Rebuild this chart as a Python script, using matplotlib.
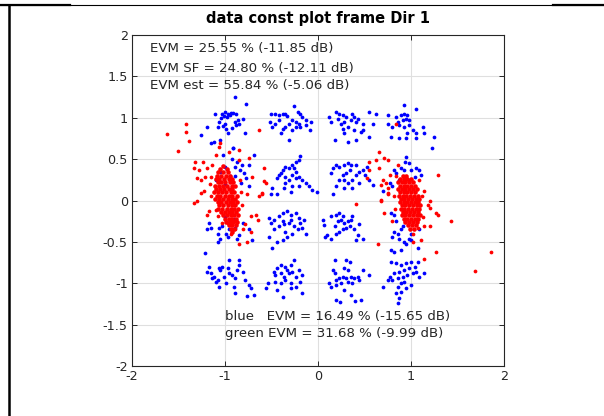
# -*- encoding: utf-8 -*-
import numpy as np
import matplotlib
matplotlib.use("Agg")
import matplotlib.pyplot as plt
from matplotlib.lines import Line2D

# --- data (I/Q points) ---
blue_row1 = [
    (-0.89, 1.25), (-0.77, 1.17), (-1.11, 1.04), (-1.03, 1.05), (-1.0, 1.07), (-0.97, 1.05),
    (-0.94, 1.06), (-0.91, 1.06), (-0.88, 1.05), (-1.01, 1.02), (-0.98, 1.01), (-0.95, 1.03),
    (-1.04, 1.0), (-1.06, 0.95), (-1.0, 0.93), (-0.89, 0.95), (-0.86, 0.97), (-0.88, 0.91),
    (-0.85, 0.93), (-0.81, 0.99), (-0.78, 0.81), (-0.99, 0.86), (-1.08, 0.89), (-1.19, 0.89),
    (-1.26, 0.79), (-1.15, 0.69), (-1.12, 0.71), (-1.05, 0.73), (-0.91, 0.64), (-0.97, 0.82),
    (-0.93, 0.88), (-1.02, 0.9),
    (-0.52, 0.95), (-0.51, 1.05), (-0.46, 1.05), (-0.42, 1.03), (-0.38, 1.05), (-0.35, 1.04),
    (-0.33, 1.02), (-0.26, 1.14), (-0.22, 1.07), (-0.19, 1.05), (-0.17, 1.01), (-0.13, 0.97),
    (-0.08, 0.95), (-0.20, 0.93), (-0.24, 0.95), (-0.28, 0.97), (-0.31, 0.93), (-0.35, 0.89),
    (-0.38, 0.87), (-0.40, 0.81), (-0.31, 0.73), (-0.28, 0.85), (-0.19, 0.89), (-0.13, 0.91),
    (-0.09, 0.85), (-0.24, 0.89), (-0.42, 0.97), (-0.46, 0.93), (-0.49, 0.89),
    (0.12, 1.01), (0.14, 0.95), (0.19, 1.07), (0.23, 1.05), (0.27, 1.03), (0.30, 1.01),
    (0.28, 0.95), (0.25, 0.93), (0.27, 0.87), (0.28, 0.81), (0.32, 0.89), (0.37, 1.05),
    (0.39, 1.01), (0.43, 0.99), (0.41, 0.95), (0.48, 0.93), (0.48, 0.85), (0.46, 0.83),
    (0.39, 0.85), (0.41, 0.73), (0.32, 0.71), (0.18, 0.73), (0.55, 1.07), (0.62, 1.05),
    (0.59, 0.93), (0.55, 0.77), (0.35, 0.97), (0.21, 0.99),
    (0.93, 1.15), (1.05, 1.11), (0.89, 1.03), (0.93, 1.05), (0.96, 1.03), (0.95, 0.99),
    (0.91, 0.97), (0.98, 0.97), (0.86, 0.95), (0.87, 0.91), (0.93, 0.89), (0.98, 0.91),
    (1.02, 0.85), (0.96, 0.81), (1.05, 0.81), (1.13, 0.89), (1.14, 0.81), (1.25, 0.77),
    (1.23, 0.63), (0.75, 1.03), (0.80, 0.89), (0.79, 0.77), (0.87, 0.75), (0.95, 0.76),
    (1.05, 0.76), (0.75, 0.93), (0.84, 1.01),
]
blue_row2 = [
    (-0.91, 0.64), (-0.69, 0.55), (-0.87, 0.47), (-0.82, 0.43), (-0.89, 0.41), (-0.74, 0.43),
    (-0.84, 0.37), (-0.80, 0.33), (-0.89, 0.30), (-0.74, 0.17), (-0.83, 0.21), (-0.77, 0.27),
    (-1.0, 0.4), (-1.05, 0.35), (-0.95, 0.3), (-1.1, 0.25), (-1.0, 0.2), (-0.93, 0.5), (-1.02, 0.55),
    (-0.19, 0.54), (-0.20, 0.49), (-0.24, 0.47), (-0.28, 0.43), (-0.26, 0.39), (-0.31, 0.39),
    (-0.35, 0.41), (-0.38, 0.37), (-0.40, 0.33), (-0.42, 0.31), (-0.44, 0.27), (-0.35, 0.29),
    (-0.31, 0.25), (-0.28, 0.31), (-0.24, 0.27), (-0.20, 0.29), (-0.17, 0.25), (-0.13, 0.21),
    (-0.10, 0.17), (-0.20, 0.17), (-0.28, 0.17), (-0.35, 0.21), (-0.49, 0.15), (-0.51, 0.08),
    (-0.44, 0.08), (-0.37, 0.15), (-0.29, 0.10), (-0.06, 0.13), (-0.01, 0.10), (-0.24, 0.35),
    (0.16, 0.39), (0.19, 0.43), (0.23, 0.41), (0.28, 0.43), (0.32, 0.45), (0.35, 0.43),
    (0.34, 0.37), (0.30, 0.33), (0.27, 0.31), (0.23, 0.25), (0.28, 0.25), (0.32, 0.21),
    (0.37, 0.25), (0.41, 0.31), (0.44, 0.35), (0.48, 0.37), (0.50, 0.31), (0.55, 0.25),
    (0.59, 0.19), (0.44, 0.21), (0.37, 0.15), (0.28, 0.15), (0.19, 0.17), (0.16, 0.08),
    (0.14, 0.33), (0.41, 0.43), (0.53, 0.41),
    (0.95, 0.53), (0.94, 0.47), (0.98, 0.45), (0.89, 0.39), (0.82, 0.37), (0.84, 0.33),
    (0.93, 0.37), (1.0, 0.37), (1.05, 0.39), (1.09, 0.37), (1.11, 0.31), (1.04, 0.29),
    (0.98, 0.25), (0.70, 0.12), (0.80, 0.17), (0.77, 0.21), (0.87, 0.25), (0.95, 0.27),
]
blue_row3 = [
    (-1.17, -0.27), (-1.19, -0.35), (-1.15, -0.33), (-1.06, -0.33), (-1.08, -0.40), (-1.05, -0.46),
    (-1.08, -0.50), (-0.99, -0.40), (-0.97, -0.44), (-0.96, -0.35), (-0.89, -0.33), (-0.87, -0.46),
    (-0.85, -0.42), (-0.81, -0.27), (-0.74, -0.35), (-0.71, -0.48), (-1.03, -0.31), (-0.95, -0.25),
    (-1.0, -0.2), (-0.9, -0.22),
    (-0.53, -0.21), (-0.51, -0.27), (-0.47, -0.23), (-0.42, -0.19), (-0.38, -0.15), (-0.33, -0.13),
    (-0.29, -0.17), (-0.24, -0.15), (-0.20, -0.21), (-0.19, -0.27), (-0.17, -0.33), (-0.22, -0.35),
    (-0.28, -0.40), (-0.33, -0.44), (-0.38, -0.48), (-0.44, -0.50), (-0.49, -0.58), (-0.53, -0.44),
    (-0.47, -0.35), (-0.42, -0.31), (-0.37, -0.29), (-0.31, -0.27), (-0.26, -0.31), (-0.35, -0.38),
    (-0.29, -0.23), (-0.38, -0.25), (-0.15, -0.23), (-0.13, -0.40),
    (0.14, -0.19), (0.19, -0.17), (0.23, -0.15), (0.27, -0.19), (0.25, -0.23), (0.21, -0.25),
    (0.28, -0.27), (0.32, -0.25), (0.35, -0.23), (0.34, -0.31), (0.30, -0.33), (0.27, -0.35),
    (0.23, -0.38), (0.19, -0.40), (0.14, -0.46), (0.39, -0.35), (0.43, -0.42), (0.48, -0.46),
    (0.44, -0.29), (0.37, -0.19), (0.18, -0.31), (0.41, -0.48), (0.05, -0.23), (0.08, -0.44),
    (0.06, -0.30), (0.10, -0.42),
    (0.79, -0.15), (0.82, -0.38), (0.80, -0.44), (0.86, -0.40), (0.89, -0.35), (0.87, -0.46),
    (0.93, -0.50), (0.98, -0.46), (0.95, -0.52), (1.0, -0.48), (0.91, -0.31), (1.0, -0.40),
    (1.07, -0.58), (1.09, -0.35), (0.82, -0.17), (0.84, -0.25), (0.79, -0.60), (0.82, -0.62),
    (0.89, -0.60),
]
blue_row4 = [
    (-1.21, -0.64), (-1.17, -0.80), (-1.19, -0.86), (-1.15, -0.88), (-1.12, -0.92), (-1.08, -0.96),
    (-1.05, -0.84), (-1.03, -0.80), (-0.96, -0.72), (-1.06, -0.82), (-0.97, -0.82), (-0.96, -0.88),
    (-0.92, -0.90), (-0.89, -0.94), (-0.87, -0.84), (-0.85, -0.78), (-0.81, -0.86), (-0.78, -0.96),
    (-0.74, -1.02), (-0.72, -1.06), (-0.69, -1.14), (-0.76, -1.16), (-0.89, -1.12), (-0.90, -1.04),
    (-0.99, -1.0), (-1.06, -1.04), (-1.10, -0.98), (-1.01, -0.92), (-1.14, -0.94), (-0.85, -0.72),
    (-0.26, -0.72), (-0.29, -0.78), (-0.35, -0.80), (-0.40, -0.78), (-0.44, -0.82), (-0.47, -0.86),
    (-0.46, -0.90), (-0.40, -0.88), (-0.37, -0.92), (-0.31, -0.88), (-0.28, -0.86), (-0.24, -0.92),
    (-0.20, -0.84), (-0.17, -0.90), (-0.19, -0.98), (-0.24, -1.04), (-0.29, -1.0), (-0.35, -0.96),
    (-0.40, -1.0), (-0.46, -0.98), (-0.54, -1.0), (-0.56, -1.06), (-0.44, -1.08), (-0.29, -1.06),
    (-0.17, -1.12), (-0.38, -1.17), (-0.33, -0.84),
    (0.18, -0.72), (0.30, -0.72), (0.34, -0.74), (0.16, -0.84), (0.18, -0.88), (0.28, -0.82),
    (0.32, -0.84), (0.27, -0.92), (0.23, -0.94), (0.19, -0.96), (0.30, -0.94), (0.35, -0.92),
    (0.39, -0.94), (0.43, -0.92), (0.44, -0.96), (0.37, -1.0), (0.32, -0.98), (0.25, -1.0),
    (0.19, -1.02), (0.14, -1.04), (0.35, -1.14), (0.46, -1.20), (0.48, -0.84), (0.55, -0.90),
    (0.28, -1.08), (0.12, -1.0), (0.19, -1.20), (0.24, -1.23), (0.40, -1.22),
    (0.78, -0.74), (0.84, -0.76), (0.89, -0.78), (0.95, -0.76), (1.0, -0.74), (1.07, -0.74),
    (1.04, -0.80), (0.98, -0.82), (0.93, -0.84), (0.87, -0.86), (0.82, -0.88), (0.77, -0.92),
    (0.75, -0.96), (0.80, -0.96), (0.86, -0.94), (0.91, -0.92), (0.96, -0.90), (1.02, -0.88),
    (1.05, -0.86), (1.14, -0.88), (1.09, -0.92), (0.89, -1.0), (0.86, -1.04), (0.84, -1.12),
    (0.89, -1.10), (0.95, -1.06), (1.0, -1.02), (0.70, -1.04), (0.87, -1.18), (0.93, -0.98),
    (0.86, -1.24),
]

# dense red clusters, as rows: (y, [x values])
red_left_rows = [
    (0.42, [-1.02]), (0.38, [-1.05, -0.98]), (0.34, [-1.07, -1.02, -0.97]),
    (0.30, [-1.09, -1.04, -0.99, -0.95]), (0.26, [-1.10, -1.06, -1.01, -0.96, -0.92]),
    (0.22, [-1.08, -1.04, -1.00, -0.95, -0.91]), (0.18, [-1.11, -1.06, -1.02, -0.98, -0.93, -0.89]),
    (0.14, [-1.10, -1.05, -1.01, -0.96, -0.92]), (0.10, [-1.12, -1.07, -1.03, -0.99, -0.94, -0.90]),
    (0.06, [-1.09, -1.05, -1.00, -0.96, -0.92, -0.87]), (0.02, [-1.11, -1.06, -1.02, -0.97, -0.93, -0.89]),
    (-0.02, [-1.08, -1.04, -0.99, -0.95, -0.91, -0.87]), (-0.06, [-1.06, -1.02, -0.97, -0.93, -0.89]),
    (-0.10, [-1.07, -1.03, -0.98, -0.94, -0.90, -0.86]), (-0.14, [-1.04, -1.00, -0.96, -0.92, -0.88]),
    (-0.18, [-1.02, -0.98, -0.94, -0.90, -0.86]), (-0.22, [-1.00, -0.96, -0.92, -0.88]),
    (-0.26, [-0.99, -0.95, -0.91, -0.87]), (-0.30, [-0.96, -0.92, -0.88]), (-0.34, [-0.94, -0.90]),
    (-0.38, [-0.92]),
]
red_right_rows = [
    (0.30, [0.91, 0.95]), (0.26, [0.88, 0.92, 0.96, 1.00]), (0.22, [0.86, 0.90, 0.94, 0.98, 1.02]),
    (0.18, [0.88, 0.92, 0.96, 1.00, 1.04]), (0.14, [0.86, 0.90, 0.94, 0.98, 1.02, 1.06]),
    (0.10, [0.88, 0.92, 0.96, 1.00, 1.04]), (0.06, [0.87, 0.91, 0.95, 0.99, 1.03, 1.07]),
    (0.02, [0.89, 0.93, 0.97, 1.01, 1.05, 1.09]), (-0.02, [0.88, 0.92, 0.96, 1.00, 1.04, 1.08]),
    (-0.06, [0.90, 0.94, 0.98, 1.02, 1.06, 1.10]), (-0.10, [0.89, 0.93, 0.97, 1.01, 1.05, 1.09]),
    (-0.14, [0.91, 0.95, 0.99, 1.03, 1.07]), (-0.18, [0.90, 0.94, 0.98, 1.02, 1.06, 1.10]),
    (-0.22, [0.92, 0.96, 1.00, 1.04, 1.08]), (-0.26, [0.94, 0.98, 1.02, 1.06]),
    (-0.30, [0.97, 1.01, 1.05]), (-0.34, [0.99, 1.03]),
]
red_scatter = [
    (-1.42, 0.93), (-1.62, 0.80), (-1.42, 0.83), (-1.39, 0.72), (-1.51, 0.60), (-1.32, 0.47),
    (-1.24, 0.47), (-1.28, 0.37), (-1.33, 0.39), (-1.30, 0.27), (-1.26, 0.25), (-1.21, 0.29),
    (-1.15, 0.29), (-1.19, 0.39), (-1.14, 0.43), (-1.10, 0.55), (-1.06, 0.65), (-0.63, 0.85),
    (-1.05, 0.69), (-0.85, 0.49), (-0.74, 0.51), (-0.58, 0.39), (-0.58, 0.23), (-0.60, 0.08),
    (-0.63, 0.06), (-0.76, 0.08), (-0.71, 0.29), (-0.85, 0.61), (-0.96, 0.59),
    (-1.33, -0.03), (-1.30, -0.01), (-1.26, 0.09), (-1.23, 0.11), (-1.19, -0.17), (-1.17, -0.13),
    (-0.67, -0.17), (-0.65, -0.23), (-0.78, -0.29), (-0.72, -0.38), (-0.85, -0.52), (-0.76, -0.50),
    (-0.89, -0.35), (-0.94, -0.40), (-0.56, 0.21), (-0.60, 0.09), (-1.10, -0.11), (-1.08, -0.19),
    (-1.03, -0.27), (-0.97, -0.27), (-0.89, -0.25), (-0.81, -0.35), (-0.72, -0.19),
    (-1.16, 0.20), (-1.15, 0.05), (-0.83, 0.10), (-0.82, -0.05), (-0.84, 0.25),
    (0.66, 0.59), (0.55, 0.47), (0.62, 0.49), (0.71, 0.51), (0.75, 0.49), (0.86, 0.43),
    (0.66, 0.39), (0.77, 0.31), (0.73, 0.21), (0.84, 0.93), (0.55, 0.37), (0.53, 0.27),
    (0.75, 0.08), (0.68, 0.0), (0.41, -0.04), (1.29, 0.31), (1.14, 0.12), (1.20, 0.0),
    (1.09, 0.25), (0.70, 0.25), (0.68, 0.01), (0.75, 0.09), (0.71, -0.15), (0.80, -0.25),
    (1.18, -0.05), (1.20, -0.09), (1.27, -0.15), (1.29, -0.17), (1.43, -0.25), (1.14, -0.31),
    (1.20, -0.31), (1.07, -0.33), (1.02, -0.40), (1.11, -0.48), (0.64, -0.52), (1.27, -0.62),
    (1.86, -0.62), (1.69, -0.85), (1.14, -0.71), (1.02, -0.50), (0.75, 0.15), (0.68, 0.19),
    (0.82, 0.05), (0.83, -0.10), (1.13, -0.20), (1.12, 0.05), (0.84, 0.30),
]

title = "data const plot frame Dir 1"
evm_lines = ["EVM = 25.55 % (-11.85 dB)", "EVM SF = 24.80 % (-12.11 dB)", "EVM est = 55.84 % (-5.06 dB)"]
evm_lower = ["blue   EVM = 16.49 % (-15.65 dB)", "green EVM = 31.68 % (-9.99 dB)"]
xticks = [-2, -1, 0, 1, 2]
yticks = [-2, -1.5, -1, -0.5, 0, 0.5, 1, 1.5, 2]


def rows_to_xy(rows):
    xs, ys = [], []
    for y, xr in rows:
        for x in xr:
            xs.append(x)
            ys.append(y)
    return xs, ys


def main():
    plt.rcParams['axes.unicode_minus'] = False
    plt.rcParams['font.family'] = 'DejaVu Sans'
    fig = plt.figure(figsize=(6.04, 4.16), dpi=100)
    ax = fig.add_axes([132 / 604, 50 / 416, 372 / 604, 331 / 416])

    dark = '#262626'
    ax.grid(True, color='#dfdfdf', linewidth=0.8)
    ax.set_axisbelow(True)

    blue = np.array(blue_row1 + blue_row2 + blue_row3 + blue_row4)
    ax.plot(blue[:, 0], blue[:, 1], 'o', color='#0000ff', markersize=2.7, markeredgewidth=0)

    lx, ly = rows_to_xy(red_left_rows)
    rx, ry = rows_to_xy(red_right_rows)
    sc = np.array(red_scatter)
    # dense cores slightly larger so they merge like the reference
    ax.plot(lx + rx, ly + ry, 'o', color='#ff0000', markersize=3.3, markeredgewidth=0)
    ax.plot(sc[:, 0], sc[:, 1], 'o', color='#ff0000', markersize=2.7, markeredgewidth=0)

    ax.set_xlim(-2, 2)
    ax.set_ylim(-2, 2)
    ax.set_xticks(xticks)
    ax.set_xticklabels([str(t) for t in xticks])
    ax.set_yticks(yticks)
    ax.set_yticklabels(['%g' % t for t in yticks])
    ax.tick_params(direction='in', top=True, right=True, length=3.5, width=0.7,
                   colors=dark, labelsize=9.2, pad=3)
    for sp in ax.spines.values():
        sp.set_color(dark)
        sp.set_linewidth(0.8)

    ax.set_title(title, fontsize=10.5, fontweight='bold', color='black', pad=9)

    for y, s in zip([1.831, 1.601, 1.384], evm_lines):
        ax.text(-1.81, y, s, fontsize=9.6, color=dark, va='center', ha='left')
    for y, s in zip([-1.396, -1.613], evm_lower):
        ax.text(-1.0, y, s, fontsize=9.6, color=dark, va='center', ha='left')

    # frame lines of the page around the figure
    ytop = 1 - 4.5 / 416
    fig.add_artist(Line2D([0, 1], [ytop, ytop], color='black', linewidth=0.8))
    fig.add_artist(Line2D([0, 70 / 604], [ytop, ytop], color='black', linewidth=1.6))
    fig.add_artist(Line2D([553 / 604, 1], [ytop, ytop], color='black', linewidth=1.6))
    fig.add_artist(Line2D([8.5 / 604, 8.5 / 604], [0, ytop], color='black', linewidth=1.8))

    fig.savefig('out.png', dpi=100)


if __name__ == "__main__":
    main()
